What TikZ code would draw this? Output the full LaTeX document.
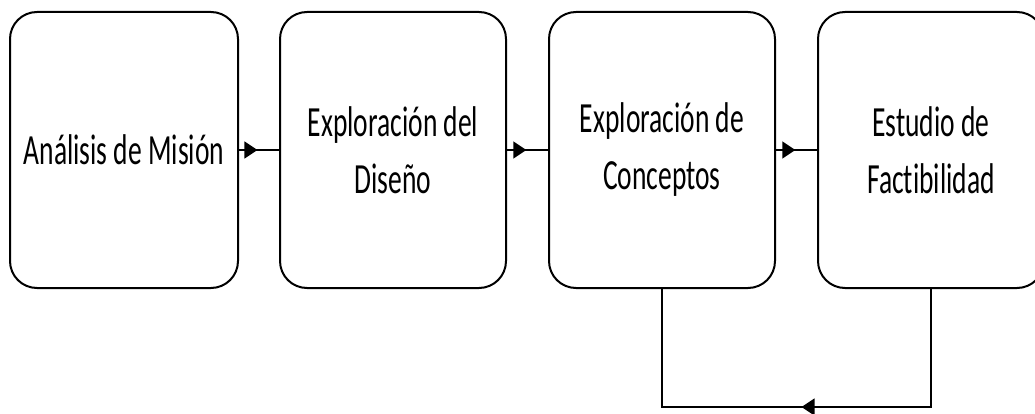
\documentclass[tikz,border=0pt]{standalone}
\usepackage{fontspec}
\setmainfont{Carlito}[FakeStretch=0.64,Ligatures=NoCommon]
\usetikzlibrary{decorations.markings,arrows.meta}
\begin{document}
\begin{tikzpicture}[x=1pt,y=-1pt,
  box/.style={draw, line width=2pt, rounded corners=27pt, minimum height=276pt,
    align=center, font=\fontsize{43}{57}\selectfont, inner sep=0pt},
  conn/.style={line width=1.5pt},
  midarrow/.style={postaction={decorate}, decoration={markings,
    mark=at position #1 with {\arrow{Triangle[length=13pt,width=17pt]}}}}]
\useasboundingbox (0,0) rectangle (1035,414);
\node[box, minimum width=228pt] (n1) at (124,150) {Análisis de Misión};
\node[box, minimum width=226pt] (n2) at (393,150) {Exploración del\\Diseño};
\node[box, minimum width=226pt] (n3) at (662,150) {Exploración de\\Conceptos};
\node[box, minimum width=226pt] (n4) at (931,150) {Estudio de\\Factibilidad};
\draw[conn, midarrow=0.46] (n1.east) -- (n2.west);
\draw[conn, midarrow=0.47] (n2.east) -- (n3.west);
\draw[conn, midarrow=0.47] (n3.east) -- (n4.west);
\coordinate (b4) at (931,407);
\draw[conn, midarrow=0.49] (n4.south) -- (b4) -| (n3.south);
\end{tikzpicture}
\end{document}
